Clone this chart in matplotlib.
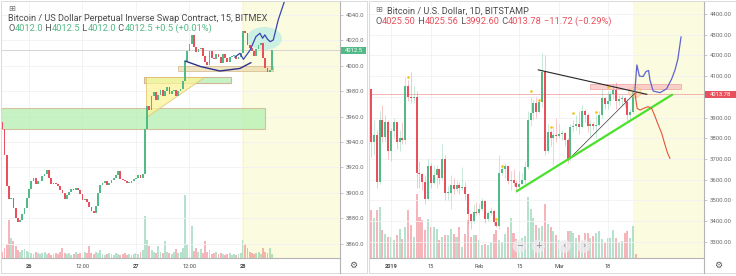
import numpy as np
import matplotlib
matplotlib.use("Agg")
import matplotlib.pyplot as plt
from matplotlib.patches import Rectangle, Polygon, Ellipse, Circle

plt.rcParams['font.family'] = ['Roboto', 'DejaVu Sans']

# ================= LEFT PANEL DATA (BITMEX XBTUSD, hours from 26 Mar 00:00) =================
left_start_hour = -6.0
left_step_hours = 0.5
left_first_open = 3956.0
left_close = [3950, 3930, 3905, 3895, 3896, 3888, 3880, 3877, 3879, 3883,
              3888, 3896, 3903, 3909, 3912, 3907, 3909, 3909, 3913, 3915,
              3918, 3912, 3907, 3908, 3907, 3905, 3902, 3900, 3895, 3898,
              3901, 3903, 3902, 3904, 3902, 3899, 3894, 3895, 3893, 3889,
              3886, 3884, 3890, 3900, 3906, 3908, 3909, 3906, 3908, 3910,
              3912, 3914, 3917, 3911, 3910, 3909, 3908, 3908, 3909, 3911,
              3912, 3914, 3912, 3915, 3950, 3968, 3965, 3976, 3979, 3973,
              3977, 3981, 3976, 3980, 3983, 3978, 3980, 3981, 3976, 3980,
              3982, 3988, 4004, 4012, 4017, 4024, 4015, 4011, 4013, 4014,
              4008, 4003, 4001, 4012, 4006, 4005, 4009, 4007, 4002, 4009,
              4006, 4003, 4007, 4008, 4008, 4005, 4007, 4010, 4027, 4026,
              4016, 4014, 4012, 4008, 4013, 4016, 4018, 4006, 3998, 3995,
              3997, 4012.5]
left_volume = [6, 10, 14, 38, 20, 17, 12, 8, 6, 8,
               9, 7, 6, 5, 4, 6, 5, 4, 5, 6,
               4, 5, 3, 4, 5, 4, 6, 10, 5, 4,
               5, 3, 4, 6, 4, 5, 4, 6, 5, 12,
               5, 4, 6, 5, 8, 4, 3, 4, 5, 4,
               3, 5, 4, 3, 4, 5, 3, 4, 3, 4,
               5, 4, 6, 8, 42, 18, 12, 8, 6, 5,
               12, 6, 5, 17, 6, 5, 4, 6, 9, 5,
               6, 10, 63, 14, 8, 32, 7, 10, 6, 9,
               5, 17, 6, 8, 4, 5, 6, 4, 5, 4,
               3, 4, 5, 3, 4, 3, 4, 5, 18, 14,
               10, 6, 5, 4, 5, 6, 4, 10, 6, 5,
               10, 4]
left_price_ticks = [3860, 3880, 3900, 3920, 3940, 3960, 3980, 4000, 4020, 4040]
left_time_ticks = [0, 12, 24, 36, 48]
left_time_labels = ['26', '12:00', '27', '12:00', '28']
left_time_bold = ['26', '27', '28']
left_last = 4012.5
left_title = "Bitcoin / US Dollar Perpetual Inverse Swap Contract, 15, BITMEX"
left_ohlc = [("O", "4012.0"), (" H", "4012.5"), (" L", "4012.0"), (" C", "4012.5"),
             (" ", "+0.5 (+0.01%)")]

# left drawings (hours, price)
left_zone_big = [-6.3, 52.9, 3950.6, 3966.4]
left_zone_mid = [25.8, 45.3, 3986.5, 3991.2]
left_zone_tan = [33.4, 54.7, 3995.9, 3999.8]
left_triangle_h = [26.2, 26.2, 39.3]
left_triangle_p = [3959.5, 3991.4, 3991.4]
left_arc_h = [35.0, 38.4, 42.8, 47.3, 49.8]
left_arc_p = [4003.8, 3999.5, 3995.9, 3997.9, 4002.5]
left_proj_h = [46.2, 47.3, 48.1, 49.6, 50.9, 51.8, 52.4, 52.9, 53.5, 54.1, 54.8, 55.9, 57.4]
left_proj_p = [4006.9, 4009.8, 4005.1, 4012.4, 4022.9, 4025.6, 4021.7, 4024.3, 4020.9, 4019.0, 4020.3, 4036.1, 4051.8]
left_ellipse = [52.8, 4021.5, 7.9, 18.1]
left_future_start = 47.7

# ================= RIGHT PANEL DATA (BITSTAMP BTCUSD daily, days from 2019-01-01) =================
right_first_day = -7
right_first_open = 4040.0
right_close = [3780, 3815, 3590, 3890, 3805, 3880, 3740,
               3835, 3880, 3780, 3800, 3790, 4050, 4000, 3995, 4000, 3630,
               3625, 3590, 3505, 3665, 3585, 3620, 3650, 3610, 3700, 3535,
               3535, 3575, 3555, 3575, 3560, 3565, 3530, 3435, 3400, 3445, 3440,
               3460, 3495, 3410, 3440, 3450, 3395, 3375, 3630, 3650, 3665,
               3595, 3600, 3585, 3565, 3580, 3600, 3660, 3890, 3920, 3970,
               3925, 3975, 4120, 3740, 3830, 3800, 3815, 3810,
               3820, 3825, 3790, 3700, 3855, 3860, 3870, 3855, 3930, 3910,
               3860, 3870, 3860, 3865, 3910, 3995, 3965, 3980, 4015, 4035,
               3980, 3990, 3995, 3975, 3910, 3925, 4025.5, 4013.78]
right_high = [4040, 3890, 3840, 3930, 3960, 3910, 3890,
              3850, 3900, 3880, 3840, 3880, 4095, 4080, 4120, 4050, 4030,
              3690, 3630, 3620, 3700, 3680, 3670, 3670, 3650, 3770, 3720,
              3570, 3620, 3610, 3600, 3590, 3660, 3590, 3530, 3440, 3480, 3490,
              3480, 3510, 3500, 3450, 3470, 3460, 3410, 3720, 3670, 3680,
              3670, 3640, 3650, 3600, 3640, 3630, 3690, 3930, 4000, 3990,
              4000, 3990, 4210, 4200, 3870, 3840, 3860, 3900,
              3870, 3840, 3830, 3800, 3870, 3890, 3910, 3930, 3960, 3940,
              3920, 3890, 3880, 3910, 3930, 4040, 4000, 4030, 4030, 4060,
              4070, 4010, 4010, 4000, 3990, 3940, 4050, 4025.56]
right_low = [3710, 3720, 3560, 3580, 3780, 3780, 3700,
             3690, 3800, 3750, 3740, 3770, 3770, 3980, 3970, 3970, 3560,
             3560, 3550, 3480, 3500, 3560, 3580, 3560, 3580, 3600, 3500,
             3500, 3460, 3530, 3540, 3530, 3550, 3500, 3390, 3360, 3390, 3430,
             3430, 3450, 3390, 3400, 3430, 3380, 3370, 3360, 3620, 3610,
             3580, 3550, 3570, 3540, 3560, 3580, 3580, 3650, 3860, 3890,
             3900, 3920, 3950, 3720, 3730, 3760, 3670, 3780,
             3800, 3790, 3760, 3680, 3690, 3830, 3840, 3820, 3850, 3880,
             3830, 3810, 3840, 3800, 3860, 3900, 3940, 3940, 3960, 3990,
             3940, 3960, 3960, 3950, 3880, 3890, 3920, 3992.6]
right_volume = [48, 40, 48, 51, 28, 24, 21,
                21, 18, 23, 29, 19, 31, 48, 33, 21, 64,
                41, 38, 28, 39, 31, 31, 29, 18, 21, 23,
                23, 29, 24, 21, 31, 11, 24, 38, 21, 23, 23,
                18, 13, 14, 13, 16, 24, 28, 18, 16, 24,
                31, 40, 25, 19, 17, 20, 22, 61, 49, 40,
                33, 30, 32, 54, 34, 31, 27, 23,
                18, 12, 14, 27, 27, 25, 20, 23, 17, 25,
                25, 20, 22, 25, 27, 19, 15, 20, 20, 28,
                20, 15, 17, 25, 27, 20, 32, 4]
right_price_ticks = [3300, 3400, 3500, 3600, 3700, 3800, 3900, 4000, 4100, 4200, 4300, 4400]
right_hidden_tick = 4000          # covered by the last-price label in the reference
right_time_ticks = [0, 14, 31, 45, 59, 76]
right_time_labels = ['2019', '15', 'Feb', '15', 'Mar', '18']
right_time_bold = ['2019']
right_last = 4013.78
right_title = "Bitcoin / U.S. Dollar, 1D, BITSTAMP"
right_ohlc = [("O", "4025.50"), (" H", "4025.56"), (" L", "3992.60"), (" C", "4013.78"),
              (" ", "\u221211.72 (\u22120.29%)")]

right_dot_days = [6, 37, 39, 49, 52, 56, 64, 72, 76]
right_dot_prices = [4094, 3408, 3666, 4027, 3983, 3856, 3923, 3928, 4045]
right_zone_pink = [69.9, 101.8, 4036, 4063]
right_down_line = ([51.7, 89.8], [4130, 4012])
right_thin_line = ([62.2, 85.6], [3695, 4017])
right_green_line = ([43.9, 98.9], [3542, 4012])
right_blue_d = [85.6, 86.3, 87.2, 88.5, 89.5, 90.4, 90.9, 92.0, 94.4, 96.7, 98.5, 99.7, 100.7, 101.3, 101.8]
right_blue_p = [4028, 4154, 4100, 4098, 4122, 4127, 4081, 4028, 4020, 4038, 4086, 4130, 4183, 4241, 4289]
right_red_d = [85.6, 86.4, 87.4, 89.1, 90.3, 91.5, 92.7, 93.8, 95.0, 96.2, 97.1, 97.9]
right_red_p = [4017, 3944, 3936, 3947, 3952, 3944, 3904, 3864, 3824, 3767, 3727, 3703]
right_orange_ellipse = [85.6, 4022, 4.4, 50]
right_future_start = 84.9

# ================= STYLE =================
W, H = 736, 276
UP = '#53b987'
DN = '#e8505b'
AXC = '#b4b4b4'
TXT = '#4a4a4a'
GRID = '#f1f1f4'
FUT = '#fbfbe0'

fig = plt.figure(figsize=(W / 100, H / 100), dpi=100)
fig.patch.set_facecolor('white')


def rect(x0, y0, x1, y1):
    return [x0 / W, 1 - y1 / H, (x1 - x0) / W, (y1 - y0) / H]


def make_axes(box, xlim, ylim):
    ax = fig.add_axes(box)
    vax = ax.twinx()
    ax.set_zorder(3)
    vax.set_zorder(2)
    ax.patch.set_visible(False)
    vax.set_xlim(*xlim)
    vax.set_ylim(0, 257)
    vax.axis('off')
    ax.set_xlim(*xlim)
    ax.set_ylim(*ylim)
    for s in ['top', 'left']:
        ax.spines[s].set_visible(False)
    for s in ['right', 'bottom']:
        ax.spines[s].set_color(AXC)
        ax.spines[s].set_linewidth(0.8)
    ax.yaxis.tick_right()
    ax.tick_params(axis='y', length=2, width=0.5, color=AXC, pad=2,
                   labelsize=4.3, labelcolor='#6a6a6a')
    ax.tick_params(axis='x', length=0, pad=4.2, labelsize=4.1, labelcolor=TXT)
    ax.grid(True, color=GRID, lw=0.6)
    ax.set_axisbelow(True)
    return ax, vax


def candles(ax, vax, t, o, c, hi, lo, width, vwidth, vol, minh):
    o = np.asarray(o, float)
    c = np.asarray(c, float)
    cols = np.where(c >= o, UP, DN)
    if hi is not None:
        ax.vlines(t, lo, hi, colors=cols, lw=0.5, alpha=0.45, zorder=3)
    body_lo = np.minimum(o, c)
    body_h = np.maximum(np.abs(c - o), minh)
    ax.bar(t, body_h, bottom=body_lo, width=width, color=cols, lw=0, zorder=4)
    vax.bar(t, vol, width=vwidth, color=cols, alpha=0.42, lw=0, zorder=2)


# ---------------- LEFT ----------------
axL, vL = make_axes(rect(1, 1, 340, 258), (-6.28, 69.76), (3848.7, 4051.0))
tL = left_start_hour + left_step_hours * np.arange(len(left_close))
oL = [left_first_open] + left_close[:-1]
vL.axvspan(left_future_start, 80, color=FUT, lw=0, zorder=0)
candles(axL, vL, tL, oL, left_close, None, None, 0.4, 0.42, left_volume, 0.4)
axL.set_yticks(left_price_ticks)
axL.set_yticklabels([f"{p:.1f}" for p in left_price_ticks])
axL.set_xticks(left_time_ticks)
axL.set_xticklabels(left_time_labels)
for lab in axL.get_xticklabels():
    if lab.get_text() in left_time_bold:
        lab.set_fontweight('bold')
axL.axhline(left_last, color='#cfcfcf', lw=0.6, zorder=2)

z = left_zone_big
axL.add_patch(Rectangle((z[0], z[2]), z[1] - z[0], z[3] - z[2], facecolor='#b5f0b0',
                        alpha=0.75, edgecolor='#cdb08a', lw=0.8, zorder=1))
z = left_zone_mid
axL.add_patch(Rectangle((z[0], z[2]), z[1] - z[0], z[3] - z[2], facecolor='#b5f0b0',
                        alpha=0.75, edgecolor='#c9a07e', lw=0.8, zorder=1))
axL.add_patch(Polygon(list(zip(left_triangle_h, left_triangle_p)), closed=True,
                      facecolor='#fdf39a', alpha=0.75, edgecolor='#e3bf6a', lw=0.7, zorder=1.5))
z = left_zone_tan
axL.add_patch(Rectangle((z[0], z[2]), z[1] - z[0], z[3] - z[2], facecolor='#ecdcae',
                        alpha=0.75, edgecolor='#d4b98e', lw=0.7, zorder=1))
e = left_ellipse
axL.add_patch(Ellipse((e[0], e[1]), e[2], e[3], facecolor='#b8ece4', alpha=0.7,
                      edgecolor='none', zorder=1))
axL.plot(left_arc_h, left_arc_p, color='#2b2f8c', lw=1.0, zorder=6, solid_capstyle='round')
axL.plot(left_proj_h, left_proj_p, color='#3646b4', lw=0.9, zorder=6, clip_on=True)

# ---------------- RIGHT ----------------
axR, vR = make_axes(rect(369, 1, 704, 258), (-7.72, 109.86), (3221.3, 4462.8))
tR = right_first_day + np.arange(len(right_close))
oR = [right_first_open] + right_close[:-1]
vR.axvspan(right_future_start, 120, color=FUT, lw=0, zorder=0)
candles(axR, vR, tR, oR, right_close, right_high, right_low, 0.7, 0.72, right_volume, 3)
axR.set_yticks(right_price_ticks)
axR.set_yticklabels(["" if p == right_hidden_tick else f"{p:.2f}" for p in right_price_ticks])
axR.set_xticks(right_time_ticks)
axR.set_xticklabels(right_time_labels)
for lab in axR.get_xticklabels():
    if lab.get_text() in right_time_bold:
        lab.set_fontweight('bold')
axR.axhline(right_last, color='#f2a7a7', lw=0.6, zorder=2)

z = right_zone_pink
axR.add_patch(Rectangle((z[0], z[2]), z[1] - z[0], z[3] - z[2], facecolor='#f8bcbc',
                        alpha=0.7, edgecolor='#eea0a0', lw=0.7, zorder=1))
axR.scatter(right_dot_days, right_dot_prices, s=3.5, color='#f4c20d', lw=0, zorder=6)
axR.plot(*right_down_line, color='#262626', lw=0.8, zorder=6)
axR.plot(*right_thin_line, color='#262626', lw=0.45, zorder=6)
axR.plot(*right_green_line, color='#4ae02c', lw=1.6, zorder=6, solid_capstyle='butt')
e = right_orange_ellipse
axR.add_patch(Ellipse((e[0], e[1]), e[2], e[3], facecolor='#fbd9a8', alpha=0.55,
                      edgecolor='#f3b36a', lw=0.6, zorder=5))
axR.plot(right_blue_d, right_blue_p, color='#5f63cf', lw=0.9, zorder=7)
axR.plot(right_red_d, right_red_p, color='#e5533d', lw=0.8, zorder=7)

# ---------------- OVERLAY (pixel coordinates) ----------------
ov = fig.add_axes([0, 0, 1, 1], zorder=10)
ov.set_xlim(0, W)
ov.set_ylim(H, 0)
ov.axis('off')
ov.patch.set_alpha(0)

# panel frames
ov.add_patch(Rectangle((0.5, 0.5), 366, 272, fill=False, edgecolor='#dadada', lw=0.7))
ov.add_patch(Rectangle((368.5, 0.5), 367, 272, fill=False, edgecolor='#dadada', lw=0.7))
ov.plot([340.3, 340.3], [258, 272.5], color=AXC, lw=0.8)
ov.plot([704.3, 704.3], [258, 272.5], color=AXC, lw=0.8)

# last-price boxes
ov.add_patch(Rectangle((341, 47), 25, 7, facecolor=UP, edgecolor='none'))
ov.text(353.5, 50.6, f"{left_last:.1f}", color='white', fontsize=4.2, ha='center', va='center')
ov.add_patch(Rectangle((705, 90.8), 30.5, 7, facecolor=DN, edgecolor='none'))
ov.text(720.2, 94.4, f"{right_last:.2f}", color='white', fontsize=4.2, ha='center', va='center')

# gears
for gx in (353.5, 718.5):
    ov.text(gx, 265.5, '\u2699', family='DejaVu Sans', fontsize=6.5, color='#555555',
            ha='center', va='center')

# navigation buttons
for bx, sym in zip((519.3, 538.3, 564.3, 583.7), ('\u2212', '+', '\u2039', '\u203a')):
    ov.add_patch(Circle((bx, 246.3), 6.6, facecolor='#ededf0', alpha=0.8, edgecolor='none'))
    ov.text(bx, 246.0, sym, family='DejaVu Sans', fontsize=6, color='#8a8a8a',
            ha='center', va='center')

renderer = fig.canvas.get_renderer()


def width_of(s, fs, weight='normal'):
    t = ov.text(0, 0, s, fontsize=fs, fontweight=weight)
    w = t.get_window_extent(renderer).width
    t.remove()
    return w


def fitted_size(s, target):
    return 10 * target / width_of(s, 10)


def draw_pieces(x, y, pieces, fs):
    prefix = ''
    for s, col in pieces:
        px = x + (width_of(prefix, fs) if prefix else 0)
        ov.text(px, y, s, fontsize=fs, color=col, ha='left', va='baseline')
        prefix += s


# titles
fs = fitted_size(left_title, 259)
ov.text(8.3, 20.7, left_title, fontsize=fs, color=TXT, ha='left', va='baseline')
ov.text(11.5, 8.6, '\u229e', family='DejaVu Sans', fontsize=6, color='#777777',
        ha='center', va='center')
pieces = []
for lab, val in left_ohlc:
    pieces.append((lab, '#555555'))
    pieces.append((val, UP))
full = ''.join(p[0] for p in pieces)
draw_pieces(8.3, 30.7, pieces, fitted_size(full, 204))

fs = fitted_size(right_title, 142)
ov.text(387, 13.3, right_title, fontsize=fs, color=TXT, ha='left', va='baseline')
ov.text(378.8, 9.6, '\u229e', family='DejaVu Sans', fontsize=6, color='#777777',
        ha='center', va='center')
pieces = []
for lab, val in right_ohlc:
    pieces.append((lab, '#555555'))
    pieces.append((val, DN))
full = ''.join(p[0] for p in pieces)
draw_pieces(376, 24.3, pieces, fitted_size(full, 233))

fig.savefig('out.png', dpi=100, facecolor='white')
